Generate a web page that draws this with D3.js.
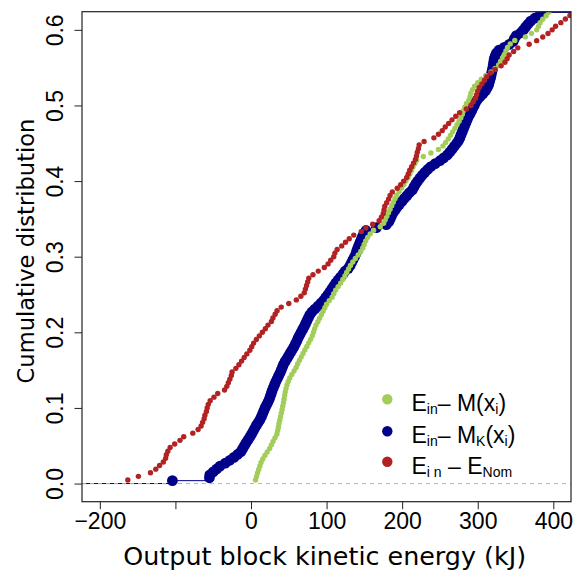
<!DOCTYPE html>
<html>
<head>
<meta charset="utf-8">
<script src="https://d3js.org/d3.v7.min.js"></script>
<style>
  body { margin: 0; background: #fff; }
  svg { display: block; font-family: "DejaVu Sans", sans-serif; }
</style>
</head>
<body>
<div id="chart"></div>
<script>
// energies (kJ), sorted; y = rank / sample size
var energyRed = [
  -163,-149,-133,-126,-121,-116,-113,-112,-110,-107,
  -101,-94,-89,-77,-70,-66,-64,-62,-61,-59,
  -58,-56.5,-54,-49,-44,-35,-32,-30,-28,-26,
  -25,-20,-16,-12.5,-9,-5.5,-1.5,1,3.5,7,
  11,15,19,22.5,27,29,32,34.5,40,50,
  60,66,70.5,72,73.5,75,76.5,82,89,97,
  102,105.5,109.5,111,114,120,125,130,136,146,
  152,161,169.5,172.5,175,176,177,179.5,182,184,
  187,193.5,198,202,206,208,210,212.5,215,217.5,
  219,220,221.5,222.5,229,242,248,253,257,261.5,
  266,271,276,285,291,294,297,298.5,300,302,
  305.5,309,312,317,323,331,336,339,341.5,347.5,
  353,368,378,386,393,398.5,403,410,416,422
];
var energyGreen = [
  6,7.3,8.6,10.2,11.7,13.3,15.6,18.4,21.4,24.7,
  27,29.2,31.7,34.2,35.3,36.2,37,38,39,40.1,
  41.1,42,42.9,43.7,44.5,45.3,46.3,47.6,49.3,51.3,
  54,57,59.7,61.7,64,66.4,68.8,71.3,73.9,76.4,
  78.9,81.1,82.7,84.2,86,88.5,90.8,93.1,95.4,97.7,
  100,103.5,107.3,109.5,112,115.3,118.6,121.5,124.3,126.6,
  129.1,131.6,134.7,138.1,141.8,145.3,147.9,149.8,151.8,154.4,
  157.7,162.2,171,175.5,177.6,179.7,181.9,184,186.2,188.3,
  190.5,192.9,196,199.4,202.2,205,207.8,210.3,212.5,214.3,
  216.9,219.4,228,238,248,254,257.6,261,264,266.9,
  269.8,272.5,275.3,277.7,279.6,281.1,283,285,288.3,289.8,
  291,293,295.8,300,304.7,310.5,317.5,323,327.7,330.2,
  332.8,335.2,337.3,339.4,343,349,363,371,378,380.3,
  382.5,386,390.5,394
];
var energyBlue = [
  -104,-55,-54.5,-50,-45.4,-41,-34,-28,-22.6,-17.8,
  -13.3,-11,-8.8,-6.5,-4,-1.5,0.8,2.9,5,7.1,
  9.5,11.9,13.8,15.4,17,18.6,20.5,22.5,24.2,25.5,
  26.8,28,29.6,31.2,32.8,34.7,36.5,38.4,40,41.5,
  43.1,45.2,47.6,49.9,52.2,54.5,56.8,58.7,60.7,62.3,
  64.2,66.3,68.3,70.4,72.3,74.1,75.9,77.8,80.6,84.5,
  88.6,92.4,96.2,99,101.9,104.6,107.2,109.7,112.3,115.3,
  118.4,121.7,124.3,128.7,131.2,133.1,135,137,138.8,139.9,
  141.3,142.9,144.4,146,147.6,149.4,152.2,166,179,182.4,
  184.2,185.9,187.8,190.7,193.3,196.4,199.6,202.8,206.3,209.5,
  213.6,215.7,217.9,220.5,223.5,226.6,230,233.7,238,243.8,
  250,255,259.8,263.2,266.2,269.2,272.2,274.9,276.5,278,
  279.6,281.1,282.7,284.3,285.9,287.4,289.7,291.6,293.5,295.3,
  297,299.5,303,306.7,310.1,312.4,314.3,315.3,316.4,317.3,
  318.2,319.1,320,320.6,321.2,321.8,323.1,324.8,327.9,335,
  341.6,346.8,348.5,351,357,360.5,363.5,366.6,370,375.5,
  382,386
];
// total sample sizes (the ecdf goes on above the cut at 0.62)
var sizeRed = 210, sizeGreen = 215, sizeBlue = 260;

var xTicks = [-200, -100, 0, 100, 200, 300, 400];
var xTickLabels = ["\u2212200", "", "0", "100", "200", "300", "400"];
var yTicks = [0, 0.1, 0.2, 0.3, 0.4, 0.5, 0.6];
var yTickLabels = ["0.0", "0.1", "0.2", "0.3", "0.4", "0.5", "0.6"];

var colGreen = "#a2cd5a", colBlue = "#00008b", colRed = "#b22222";

var W = 575, H = 572;
// plot region in pixels (not "top": that name is taken by window.top)
var pL = 82, pR = 571, pT = 11.7, pB = 501.7;
var tickFont = "Liberation Sans, Arial, sans-serif";

var svg = d3.select("#chart").append("svg").attr("width", W).attr("height", H);

var x = d3.scaleLinear().domain([-223.6, 423.4]).range([pL, pR]);
var y = d3.scaleLinear().domain([-0.024, 0.624]).range([pB, pT]);

function ecdf(vals, n) {
  return vals.map(function(v, i) { return {x: v, p: (i + 1) / n}; });
}
var ptsRed = ecdf(energyRed, sizeRed);
var ptsGreen = ecdf(energyGreen, sizeGreen);
var ptsBlue = ecdf(energyBlue, sizeBlue);

svg.append("clipPath").attr("id", "clip")
  .append("rect").attr("x", pL).attr("y", pT)
  .attr("width", pR - pL).attr("height", pB - pT);

var plot = svg.append("g").attr("clip-path", "url(#clip)");

// blue: step function with big points
var steps = [{x0: x.domain()[0], x1: ptsBlue[0].x, p: 0}];
for (var i = 0; i < ptsBlue.length; i++) {
  var nx = i < ptsBlue.length - 1 ? ptsBlue[i + 1].x : x.domain()[1];
  steps.push({x0: ptsBlue[i].x, x1: nx, p: ptsBlue[i].p});
}
plot.selectAll("line.step").data(steps).enter().append("line")
  .attr("class", "step")
  .attr("x1", function(d) { return x(d.x0); })
  .attr("x2", function(d) { return x(d.x1); })
  .attr("y1", function(d) { return y(d.p); })
  .attr("y2", function(d) { return y(d.p); })
  .attr("stroke", colBlue).attr("stroke-width", 1);

plot.append("line")
  .attr("x1", pL).attr("x2", pR)
  .attr("y1", y(0)).attr("y2", y(0))
  .attr("stroke", "#b3b3b3").attr("stroke-width", 1)
  .attr("stroke-dasharray", "4,4");

plot.selectAll("circle.blue").data(ptsBlue).enter().append("circle")
  .attr("class", "blue")
  .attr("cx", function(d) { return x(d.x); })
  .attr("cy", function(d) { return y(d.p); })
  .attr("r", 5.4).attr("fill", colBlue);

plot.selectAll("circle.green").data(ptsGreen).enter().append("circle")
  .attr("class", "green")
  .attr("cx", function(d) { return x(d.x); })
  .attr("cy", function(d) { return y(d.p); })
  .attr("r", 2.7).attr("fill", colGreen);

plot.selectAll("circle.red").data(ptsRed).enter().append("circle")
  .attr("class", "red")
  .attr("cx", function(d) { return x(d.x); })
  .attr("cy", function(d) { return y(d.p); })
  .attr("r", 2.7).attr("fill", colRed);

// axes
var xAxis = d3.axisBottom(x).tickValues(xTicks)
  .tickFormat(function(d, i) { return xTickLabels[i]; })
  .tickSize(7.5).tickSizeOuter(0).tickPadding(3.5);
var gx = svg.append("g").attr("transform", "translate(0," + pB + ")").call(xAxis);
gx.select(".domain").remove();
gx.selectAll("line").attr("stroke", "#222");
gx.selectAll("text").attr("font-size", 23).attr("fill", "#000")
  .attr("font-family", tickFont);

var yAxis = d3.axisLeft(y).tickValues(yTicks)
  .tickFormat(function(d, i) { return yTickLabels[i]; })
  .tickSize(7.5).tickSizeOuter(0);
var gy = svg.append("g").attr("transform", "translate(" + pL + ",0)").call(yAxis);
gy.select(".domain").remove();
gy.selectAll("line").attr("stroke", "#222");
gy.selectAll("text").attr("font-size", 23).attr("fill", "#000")
  .attr("font-family", tickFont)
  .attr("transform", "rotate(-90)")
  .attr("text-anchor", "middle")
  .attr("x", 0).attr("y", -19).attr("dy", 0);

svg.append("rect")
  .attr("x", pL).attr("y", pT)
  .attr("width", pR - pL).attr("height", pB - pT)
  .attr("fill", "none").attr("stroke", "#222").attr("stroke-width", 1.2);

svg.append("text")
  .attr("x", 123.3).attr("y", 565)
  .attr("font-size", 25.4)
  .text("Output block kinetic energy (kJ)");

svg.append("text")
  .attr("transform", "translate(34," + 251 + ") rotate(-90)")
  .attr("text-anchor", "middle").attr("font-size", 22.6)
  .text("Cumulative distribution");

// legend
var legendRows = [
  {col: colGreen, parts: [["E", 0], ["in", 1], ["\u2013 M(x", 0], ["i", 1], [")", 0]]},
  {col: colBlue, parts: [["E", 0], ["in", 1], ["\u2013 M", 0], ["K", 1], ["(x", 0], ["i", 1], [")", 0]]},
  {col: colRed, parts: [["E", 0], ["i n", 1], [" \u2013 E", 0], ["Nom", 1]]}
];
var legendY = [399.3, 431.3, 461.7];
var leg = svg.append("g").attr("font-family", tickFont);
legendRows.forEach(function(row, k) {
  leg.append("circle").attr("cx", 387.3).attr("cy", legendY[k])
    .attr("r", 5.2).attr("fill", row.col);
  var t = leg.append("text").attr("x", 411.5).attr("y", legendY[k] + 11.8)
    .attr("font-size", 23).attr("xml:space", "preserve");
  var shifted = false;
  row.parts.forEach(function(p) {
    var s = t.append("tspan").text(p[0]);
    if (p[1] && !shifted) { s.attr("font-size", 14).attr("dy", 3); shifted = true; }
    else if (!p[1] && shifted) { s.attr("dy", -3); shifted = false; }
    else if (p[1]) { s.attr("font-size", 14); }
  });
});
</script>
</body>
</html>
